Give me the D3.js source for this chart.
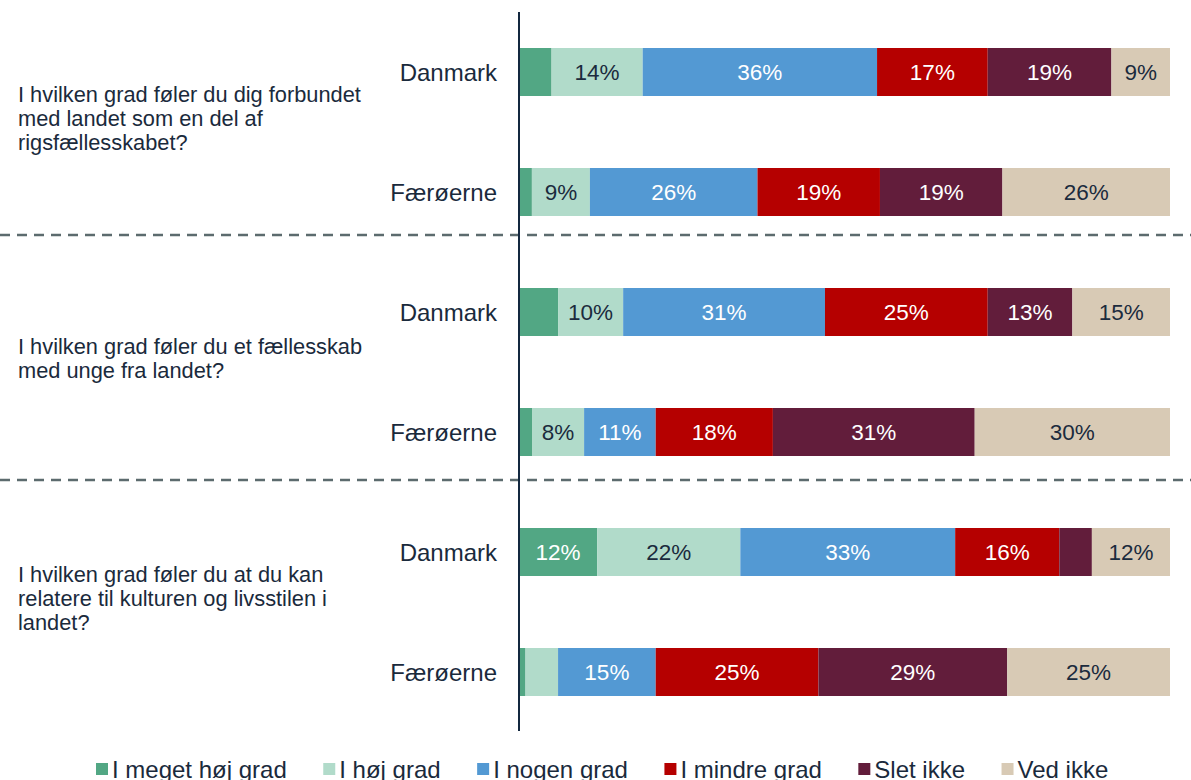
<!DOCTYPE html>
<html lang="da">
<head>
<meta charset="utf-8">
<script src="https://cdn.jsdelivr.net/npm/d3@7"></script>
<style>
  html, body { margin: 0; padding: 0; background: #ffffff; }
  svg { display: block; font-family: "Liberation Sans", Arial, sans-serif; }
</style>
</head>
<body>
<svg id="chart" width="1191" height="780"></svg>
<script>
// Survey questions (wrapped as shown), countries and answer categories
const questions = [
  ["I hvilken grad føler du dig forbundet", "med landet som en del af", "rigsfællesskabet?"],
  ["I hvilken grad føler du et fællesskab", "med unge fra landet?"],
  ["I hvilken grad føler du at du kan", "relatere til kulturen og livsstilen i", "landet?"]
];
const countries = ["Danmark", "Færøerne"];
const categories = ["I meget høj grad", "I høj grad", "I nogen grad", "I mindre grad", "Slet ikke", "Ved ikke"];
const colors = ["#52a784", "#b1dbca", "#5399d3", "#b50000", "#621d3b", "#d8cab5"];
const labelColors = ["#ffffff", "#1b2b3d", "#ffffff", "#ffffff", "#ffffff", "#1b2b3d"];

// Answer shares in percent, one array per category, rows in order:
// Q1 Danmark, Q1 Færøerne, Q2 Danmark, Q2 Færøerne, Q3 Danmark, Q3 Færøerne
const megetHoej = [5, 2, 6, 2, 12, 1];
const hoej      = [14, 9, 10, 8, 22, 5];
const nogen     = [36, 26, 31, 11, 33, 15];
const mindre    = [17, 19, 25, 18, 16, 25];
const sletIkke  = [19, 19, 13, 31, 5, 29];
const vedIkke   = [9, 26, 15, 30, 12, 25];

const seriesValues = [megetHoej, hoej, nogen, mindre, sletIkke, vedIkke];
const minLabel = 8; // smaller segments carry no value label

const rows = [];
questions.forEach((q, qi) => countries.forEach((c, ci) => {
  const idx = qi * countries.length + ci;
  const row = { id: idx, question: qi, country: c };
  categories.forEach((cat, k) => { row[cat] = seriesValues[k][idx]; });
  rows.push(row);
}));

const svg = d3.select("#chart");
const textColor = "#1a2a3c";

const x = d3.scaleLinear().domain([0, 1]).range([519, 1170]);
const y = d3.scaleBand()
  .domain(rows.map(r => r.id))
  .range([12, 732])
  .paddingInner(0.6)
  .paddingOuter(0.3);

const stack = d3.stack().keys(categories).offset(d3.stackOffsetExpand);
const layers = stack(rows);

// Group separators (dashed)
const sepY = [235, 480];
svg.append("g").selectAll("line").data(sepY).join("line")
  .attr("x1", 0).attr("x2", 1191)
  .attr("y1", d => d).attr("y2", d => d)
  .attr("stroke", "#5c6b6e").attr("stroke-width", 2.5)
  .attr("stroke-dasharray", "10,7");

// Stacked segments
const layerG = svg.append("g").selectAll("g").data(layers).join("g")
  .attr("fill", (d, i) => colors[i]);

layerG.selectAll("rect").data(d => d).join("rect")
  .attr("x", d => x(d[0]))
  .attr("width", d => x(d[1]) - x(d[0]))
  .attr("y", d => y(d.data.id))
  .attr("height", y.bandwidth());

// Value labels
layers.forEach((layer, i) => {
  svg.append("g").selectAll("text")
    .data(layer.filter(d => d.data[categories[i]] >= minLabel))
    .join("text")
    .attr("x", d => (x(d[0]) + x(d[1])) / 2)
    .attr("y", d => y(d.data.id) + y.bandwidth() / 2)
    .attr("dy", "0.36em")
    .attr("text-anchor", "middle")
    .attr("font-size", 22.5)
    .attr("fill", labelColors[i])
    .text(d => d.data[categories[i]] + "%");
});

// Country labels
svg.append("g").selectAll("text").data(rows).join("text")
  .attr("x", 497)
  .attr("y", d => y(d.id) + y.bandwidth() / 2)
  .attr("dy", "0.36em")
  .attr("text-anchor", "end")
  .attr("font-size", 24)
  .attr("fill", textColor)
  .text(d => d.country);

// Question labels, centred a little above the middle of each group
const lineH = 24;
questions.forEach((lines, qi) => {
  const first = y(qi * 2), last = y(qi * 2 + 1) + y.bandwidth();
  const mid = (first + last) / 2 - 14;
  const top = mid - (lines.length - 1) * lineH / 2;
  svg.append("text")
    .attr("font-size", 21.8)
    .attr("fill", textColor)
    .selectAll("tspan").data(lines).join("tspan")
    .attr("x", 18)
    .attr("y", (d, i) => top + i * lineH)
    .attr("dy", "0.36em")
    .text(d => d);
});

// Vertical axis line
svg.append("line")
  .attr("x1", 519).attr("x2", 519)
  .attr("y1", 12).attr("y2", 731)
  .attr("stroke", "#13283f").attr("stroke-width", 2);

// Legend
const legend = svg.append("g");
let lx = 96;
categories.forEach((cat, i) => {
  legend.append("rect")
    .attr("x", lx).attr("y", 763)
    .attr("width", 12).attr("height", 12)
    .attr("fill", colors[i]);
  const t = legend.append("text")
    .attr("x", lx + 16).attr("y", 778)
    .attr("font-size", 24)
    .attr("fill", textColor)
    .text(cat);
  lx += 16 + t.node().getComputedTextLength() + 36.5;
});
</script>
</body>
</html>
